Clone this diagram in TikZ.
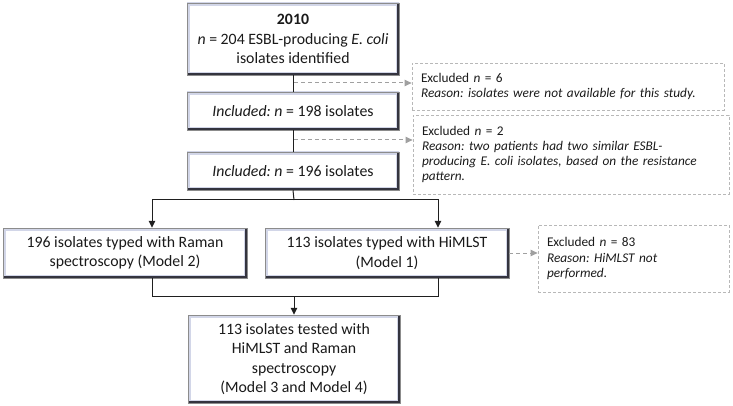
\documentclass[tikz,border=0pt]{standalone}
\usepackage{fontspec}
\setmainfont{Carlito}
\usetikzlibrary{arrows.meta,calc}
\definecolor{txt}{HTML}{1A1A1A}
\definecolor{bevlight}{HTML}{D2D6E8}
\definecolor{bevdark}{HTML}{34343F}
\definecolor{dashg}{HTML}{A0A0A0}
\definecolor{exborder}{HTML}{B8B8B8}
\frenchspacing
\begin{document}
\begin{tikzpicture}[x=1pt,y=-1pt,
  mainbox/.style={draw=black!45, line width=0.5pt, fill=white, inner sep=0pt,
    align=center, text=txt, font=\fontsize{15.8}{19.3}\selectfont,
    path picture={
      \draw[bevlight, line width=6pt] (path picture bounding box.south west) rectangle (path picture bounding box.north east);
      \draw[bevdark, line width=4.5pt] (path picture bounding box.south west) -- (path picture bounding box.south east) -- (path picture bounding box.north east);
    }},
  exbox/.style={draw=exborder, line width=0.8pt, dash pattern=on 3pt off 2pt,
    inner sep=0pt, text=txt, align=left, font=\fontsize{13.3}{15.3}\selectfont},
  conn/.style={draw=black!88, line width=1pt},
  arr/.style={conn, -{Triangle[length=7pt,width=6.5pt]}},
  dasharr/.style={draw=dashg, line width=1pt, dash pattern=on 4pt off 3pt,
    -{Triangle[length=7pt,width=6.5pt,fill=dashg]}}
]
\useasboundingbox (0,0) rectangle (733,406);

% main boxes
\node[mainbox, minimum width=212pt, minimum height=72pt] (b1) at (293,39)
  {\textbf{2010}\\\textit{n} = 204 ESBL-producing \textit{E. coli}\\isolates identified};
\node[mainbox, minimum width=212pt, minimum height=38pt] (b2) at (293,111)
  {\textit{Included:} \textit{n} = 198 isolates};
\node[mainbox, minimum width=212pt, minimum height=38pt] (b3) at (293,171)
  {\textit{Included:} \textit{n} = 196 isolates};
\node[mainbox, minimum width=244pt, minimum height=50pt] (raman) at (125,253)
  {196 isolates typed with Raman\\spectroscopy (Model 2)};
\node[mainbox, minimum width=244pt, minimum height=50pt] (himlst) at (387,253)
  {113 isolates typed with HiMLST\\(Model 1)};
\node[mainbox, minimum width=212pt, minimum height=88pt] (final) at (294,359)
  {113 isolates tested with\\HiMLST and Raman\\spectroscopy\\(Model 3 and Model 4)};

% exclusion boxes
\node[exbox, minimum width=312pt, minimum height=47pt, text width=294pt] (e1) at (568,86.5)
  {Excluded \textit{n} = 6\\\textit{Reason: isolates were not available for this study.}};
\node[exbox, minimum width=316pt, minimum height=79pt, text width=298pt] (e2) at (571,154.5)
  {Excluded \textit{n} = 2\\\textit{Reason: two patients had two similar ESBL-}\\\textit{producing E. coli isolates, based on the resistance}\\\textit{pattern.}};
\node[exbox, minimum width=191pt, minimum height=67pt, text width=173pt] (e3) at (633.5,258.5)
  {Excluded \textit{n} = 83\\\textit{Reason: HiMLST not}\\\textit{performed.}};

% coordinates
\coordinate (t1) at (294,83);
\coordinate (t2) at (294,140);
\coordinate (split) at (294,200);
\coordinate (sl) at (152,200);
\coordinate (sr) at (438,200);
\coordinate (ml) at (152,296);
\coordinate (mr) at (438,296);
\coordinate (merge) at (294,296);

% trunk
\draw[conn] (b1.south) -- (b2.north);
\draw[conn] (b2.south) -- (b3.north);
\draw[conn] (b3.south) -- (split);
\draw[arr] (split) -- (sl) -- (sl |- raman.north);
\draw[arr] (split) -- (sr) -- (sr |- himlst.north);
\draw[conn] (sl |- raman.south) -- (ml) -- (mr) -- (sr |- himlst.south);
\draw[arr] (merge) -- (final.north);

% exclusion arrows
\draw[dasharr] (t1) -- (t1 -| e1.west);
\draw[dasharr] (t2) -- (t2 -| e2.west);
\draw[dasharr] (himlst.east) -- (himlst.east -| e3.west);
\end{tikzpicture}
\end{document}
